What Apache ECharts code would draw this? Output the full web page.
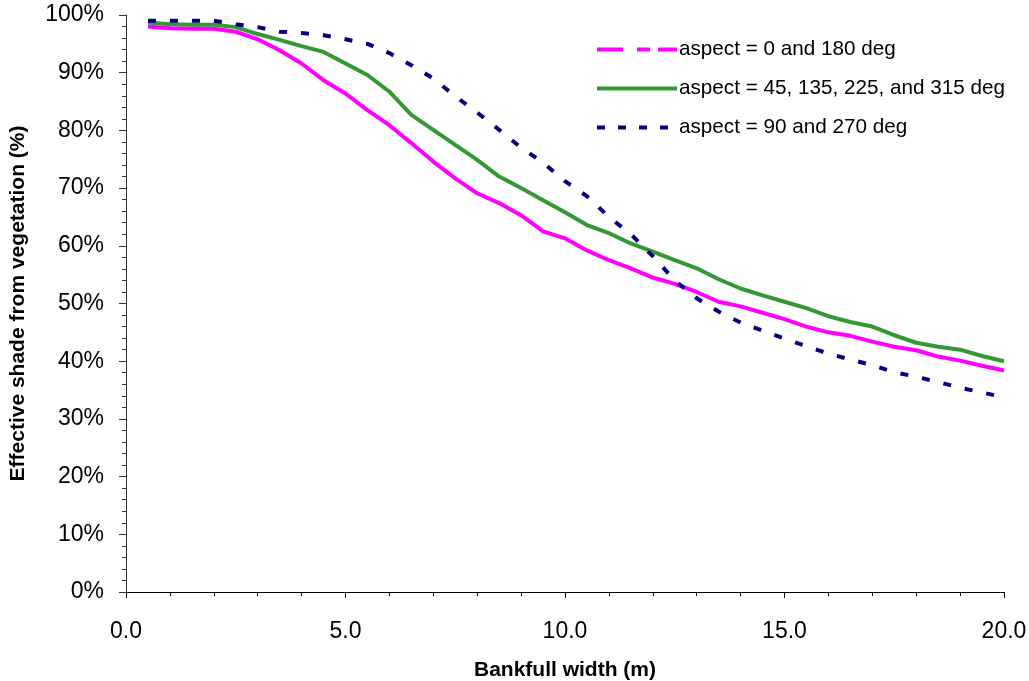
<!DOCTYPE html>
<html>
<head>
<meta charset="utf-8">
<script src="https://cdn.jsdelivr.net/npm/echarts@6/dist/echarts.min.js"></script>
<style>
  html, body { margin: 0; padding: 0; background: #fff; }
  #chart { width: 1029px; height: 681px; }
</style>
</head>
<body>
<div id="chart"></div>
<script>
// bankfull width (m)
var widths = [0.5, 1, 1.5, 2, 2.5, 3, 3.5, 4, 4.5, 5,
              5.5, 6, 6.5, 7, 7.5, 8, 8.5, 9, 9.5, 10,
              10.5, 11, 11.5, 12, 12.5, 13, 13.5, 14, 14.5, 15,
              15.5, 16, 16.5, 17, 17.5, 18, 18.5, 19, 19.5, 20];

// effective shade (%) per aspect
var shadeNS = [98.0, 97.7, 97.6, 97.6, 97.1, 95.8, 93.9, 91.6, 88.7, 86.4,
               83.5, 80.9, 77.8, 74.6, 71.7, 69.1, 67.4, 65.3, 62.5, 61.3,
               59.2, 57.5, 56.1, 54.5, 53.4, 52.0, 50.3, 49.5, 48.4, 47.3,
               46.0, 45.0, 44.4, 43.4, 42.5, 41.9, 40.8, 40.1, 39.2, 38.4];
var shadeDiag = [98.7, 98.4, 98.3, 98.3, 97.9, 96.7, 95.7, 94.6, 93.6, 91.6,
                 89.6, 86.7, 82.7, 80.1, 77.5, 74.9, 72.0, 70.0, 67.9, 65.8,
                 63.6, 62.2, 60.4, 59.0, 57.5, 56.1, 54.2, 52.6, 51.4, 50.3,
                 49.2, 47.8, 46.8, 46.0, 44.5, 43.2, 42.5, 42.0, 40.9, 40.0];
var shadeEW = [99.0, 99.0, 99.0, 99.0, 98.4, 97.9, 97.1, 96.9, 96.5, 95.8,
               95.0, 93.4, 91.3, 89.0, 85.9, 83.1, 80.1, 77.0, 74.4, 71.2,
               68.6, 65.0, 62.0, 58.2, 54.0, 50.9, 48.6, 46.7, 45.3, 43.9,
               42.6, 41.3, 40.3, 39.3, 38.1, 37.3, 36.4, 35.4, 34.6, 33.7];

var names = ['aspect = 0 and 180 deg',
             'aspect = 45, 135, 225, and 315 deg',
             'aspect = 90 and 270 deg'];

function pairs(ys) {
    var out = [];
    for (var i = 0; i < widths.length; i++) {
        out.push([widths[i], ys[i]]);
    }
    return out;
}

var font = 'Liberation Sans, Arial, sans-serif';
var chart = echarts.init(document.getElementById('chart'));

var option = {
    animation: false,
    grid: { left: 126, right: 25, top: 15, bottom: 89, containLabel: false, outerBoundsMode: 'none' },
    legend: {
        orient: 'vertical',
        left: 590,
        top: 34,
        itemWidth: 80,
        itemHeight: 14,
        itemGap: 18,
        itemStyle: { opacity: 0 },
        textStyle: { fontFamily: font, fontSize: 20.7, color: '#000', padding: [0, 0, 0, -3] },
        data: [
            { name: names[0], lineStyle: { type: [26, 14, 13, 8], width: 4 } },
            { name: names[1], lineStyle: { width: 4 } },
            { name: names[2], lineStyle: { type: [8, 13], width: 4 } }
        ]
    },
    xAxis: {
        type: 'value',
        min: 0, max: 20, interval: 5,
        name: 'Bankfull width (m)',
        nameLocation: 'middle',
        nameGap: 68,
        nameTextStyle: { fontFamily: font, fontSize: 21, fontWeight: 'bold', color: '#000' },
        axisLine: { lineStyle: { color: '#000', width: 1 } },
        axisTick: { length: 6, lineStyle: { color: '#000' } },
        minorTick: { show: true, splitNumber: 5, length: 4, lineStyle: { color: '#000' } },
        splitLine: { show: false },
        axisLabel: {
            fontFamily: font, fontSize: 23, color: '#000', margin: 28,
            formatter: function (v) { return v.toFixed(1); }
        }
    },
    yAxis: {
        type: 'value',
        min: 0, max: 100, interval: 10,
        name: 'Effective shade from vegetation (%)',
        nameLocation: 'middle',
        nameGap: 97,
        nameTextStyle: { fontFamily: font, fontSize: 21, fontWeight: 'bold', color: '#000' },
        axisLine: { show: true, lineStyle: { color: '#333', width: 1 } },
        axisTick: { length: 7, lineStyle: { color: '#333' } },
        minorTick: { show: true, splitNumber: 5, length: 4, lineStyle: { color: '#333' } },
        splitLine: { show: false },
        axisLabel: { fontFamily: font, fontSize: 23, color: '#000', margin: 22, formatter: '{value}%' }
    },
    series: [
        {
            name: names[0],
            type: 'line',
            symbol: 'none',
            data: pairs(shadeNS),
            lineStyle: { color: '#ff00ff', width: 4 },
            itemStyle: { color: '#ff00ff' },
            z: 3
        },
        {
            name: names[1],
            type: 'line',
            symbol: 'none',
            data: pairs(shadeDiag),
            lineStyle: { color: '#339933', width: 4 },
            itemStyle: { color: '#339933' },
            z: 2
        },
        {
            name: names[2],
            type: 'line',
            symbol: 'none',
            data: pairs(shadeEW),
            lineStyle: { color: '#000080', width: 4, type: [8, 14] },
            itemStyle: { color: '#000080' },
            z: 4
        }
    ]
};

chart.setOption(option);
</script>
</body>
</html>
